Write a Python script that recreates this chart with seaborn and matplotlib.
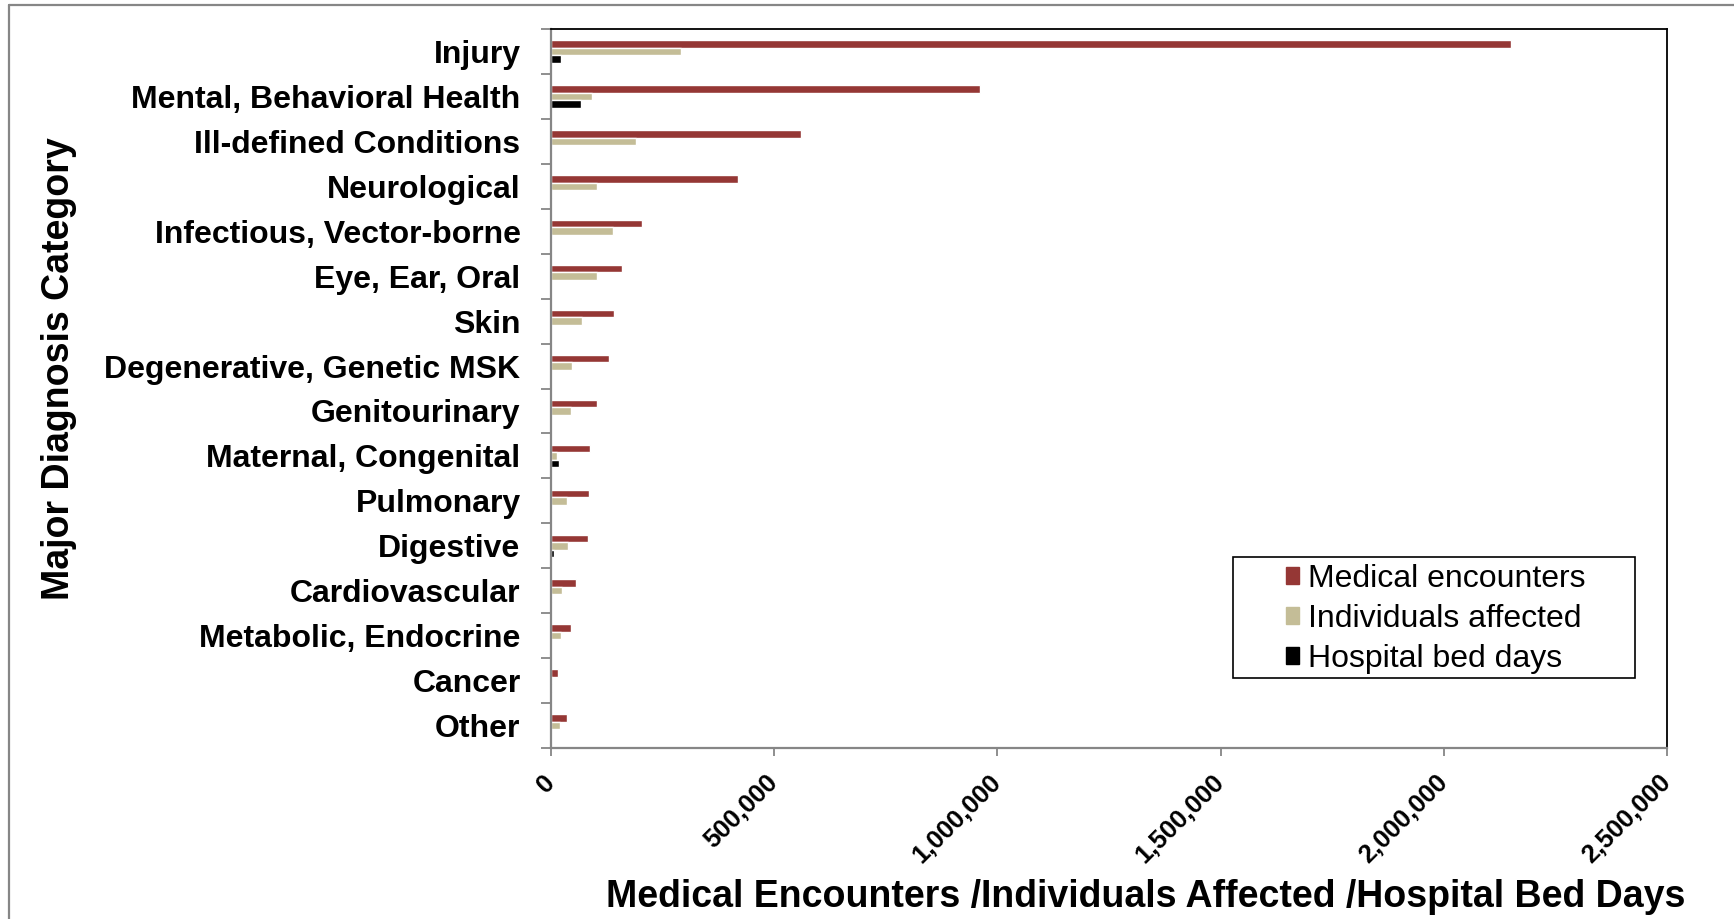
import pandas as pd
import matplotlib.pyplot as plt
import seaborn as sns
from matplotlib.lines import Line2D
from matplotlib.patches import Rectangle
from matplotlib.ticker import FuncFormatter, FixedLocator

sns.set_theme(style="white")
plt.rcParams['font.family'] = ['Liberation Sans', 'DejaVu Sans']
plt.rcParams['text.color'] = 'black'
plt.rcParams['axes.labelcolor'] = 'black'

# Data
categories = [
    "Injury", "Mental, Behavioral Health", "Ill-defined Conditions", "Neurological",
    "Infectious, Vector-borne", "Eye, Ear, Oral", "Skin", "Degenerative, Genetic MSK",
    "Genitourinary", "Maternal, Congenital", "Pulmonary", "Digestive",
    "Cardiovascular", "Metabolic, Endocrine", "Cancer", "Other",
]
medical_encounters = [2150000, 960000, 560000, 418000, 204000, 158000, 141000, 130000,
                      103000, 88000, 85000, 82000, 56000, 45000, 16000, 36000]
individuals_affected = [290000, 91000, 190000, 103000, 139000, 102000, 70000, 47000,
                        45000, 13000, 35000, 37000, 25000, 22000, 3000, 19500]
hospital_bed_days = [22000, 67000, 3000, 1000, 3000, 500, 500, 500,
                     500, 18000, 1000, 6000, 1500, 500, 1000, 500]
series_names = ["Medical encounters", "Individuals affected", "Hospital bed days"]
x_ticks = [0, 500000, 1000000, 1500000, 2000000, 2500000]

rows = []
for name, vals in zip(series_names, [medical_encounters, individuals_affected, hospital_bed_days]):
    for cat, v in zip(categories, vals):
        rows.append({"category": cat, "value": v, "series": name})
df = pd.DataFrame(rows)

palette = {"Medical encounters": "#953735", "Individuals affected": "#C4BD97",
           "Hospital bed days": "#000000"}

fig = plt.figure(figsize=(17.34, 9.19), dpi=100)
ax = fig.add_axes([0.3178, 0.1861, 0.9614 - 0.3178, 0.9684 - 0.1861])

sns.barplot(data=df, y="category", x="value", hue="series", order=categories,
            hue_order=series_names, palette=palette, orient="h", width=0.5,
            saturation=1, ax=ax, legend=False)

ax.set_xlim(0, 2500000)
ax.set_ylim(len(categories) - 0.5, -0.5)
ax.xaxis.set_major_locator(FixedLocator(x_ticks))
ax.xaxis.set_major_formatter(FuncFormatter(lambda v, p: f"{int(v):,}"))

# spines
for s in ["top", "right"]:
    ax.spines[s].set_color("black")
    ax.spines[s].set_linewidth(1.3)
for s in ["left", "bottom"]:
    ax.spines[s].set_color("#868686")
    ax.spines[s].set_linewidth(1.6)

# y ticks: labels at centers, tick marks at boundaries
ax.yaxis.set_minor_locator(FixedLocator([i - 0.5 for i in range(len(categories) + 1)]))
ax.tick_params(axis="y", which="major", length=0, pad=22, labelsize=23, labelcolor="black")
ax.tick_params(axis="y", which="minor", length=7, width=1.3, color="#868686", left=True)
ax.tick_params(axis="x", which="major", length=6, width=1.3, color="#868686", bottom=True,
               labelsize=18.5, pad=16, labelcolor="black")
for lab in ax.get_yticklabels():
    lab.set_fontweight("bold")
for lab in ax.get_xticklabels():
    lab.set_fontweight("bold")
    lab.set_rotation(45)
    lab.set_ha("right")
    lab.set_va("center")
    lab.set_rotation_mode("anchor")

ax.set_ylabel("Major Diagnosis Category", fontsize=27, fontweight="bold")
ax.set_xlabel("Medical Encounters /Individuals Affected /Hospital Bed Days",
              fontsize=27, fontweight="bold")
ax.yaxis.set_label_coords(-0.425, 0.527)
ax.xaxis.set_label_coords(0.533, -0.182)

# legend
handles = [Rectangle((0, 0), 1, 1, color=palette[n]) for n in series_names]
leg = ax.legend(handles, series_names, loc="upper left", bbox_to_anchor=(0.6586, 0.2564),
                frameon=False, fontsize=23, handlelength=0.42, handleheight=0.42,
                handletextpad=0.28, labelspacing=0.32, borderaxespad=0, borderpad=0)
ax.add_patch(Rectangle((0.611, 0.0968), 0.360, 0.1688, transform=ax.transAxes,
                       fill=False, edgecolor="black", linewidth=1.2, zorder=5))

# outer chart border (top and left visible)
fig.add_artist(Line2D([9 / 1734, 1], [1 - 4.5 / 919, 1 - 4.5 / 919], color="#868686", lw=1.6))
fig.add_artist(Line2D([9 / 1734, 9 / 1734], [0, 1 - 4.5 / 919], color="#868686", lw=1.6))

fig.savefig("out.png", dpi=100)
plt.close(fig)
